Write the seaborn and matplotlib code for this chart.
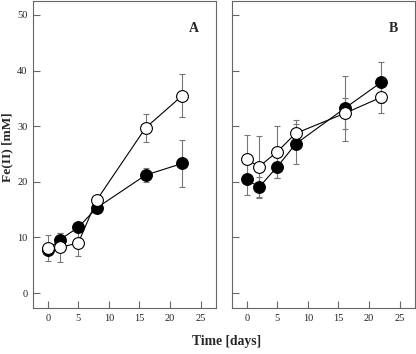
import numpy as np
import pandas as pd
import matplotlib
matplotlib.use("Agg")
import matplotlib.pyplot as plt
import seaborn as sns

# Dados
dias = [0, 2, 5, 8, 16, 22]

a_cheio = [7.8, 9.6, 11.8, 15.3, 21.2, 23.3]
a_cheio_err = [0.5, 1.2, 0.6, 0.6, 1.3, 4.3]
a_aberto = [8.1, 8.2, 9.0, 16.7, 29.7, 35.5]
a_aberto_err = [2.4, 2.6, 2.3, 0.5, 2.5, 3.8]

b_cheio = [20.5, 19.0, 22.7, 26.8, 33.2, 37.9]
b_cheio_err = [2.9, 1.9, 2.1, 3.6, 5.8, 3.7]
b_aberto = [24.1, 22.7, 25.4, 28.7, 32.3, 35.2]
b_aberto_err = [4.4, 5.5, 4.7, 2.4, 2.8, 2.9]

paineis = ["A", "B"]
xticks = [0, 5, 10, 15, 20, 25]
yticks = [0, 10, 20, 30, 40, 50]

sns.set_style("ticks")
plt.rcParams["font.family"] = ["Liberation Serif", "DejaVu Serif"]

fig = plt.figure(figsize=(4.16, 3.54), dpi=100)
ax1 = fig.add_axes([33 / 416, 1 - 307.5 / 354, 183 / 416, 306.5 / 354])
ax2 = fig.add_axes([232 / 416, 1 - 307.5 / 354, 183 / 416, 306.5 / 354])

dados = [
    (ax1, a_cheio, a_cheio_err, a_aberto, a_aberto_err),
    (ax2, b_cheio, b_cheio_err, b_aberto, b_aberto_err),
]

for (ax, cheio, cheio_err, aberto, aberto_err), nome in zip(dados, paineis):
    # barras de erro atrás dos marcadores
    ax.errorbar(dias, cheio, yerr=cheio_err, fmt="none", ecolor="#777777",
                elinewidth=0.8, capsize=2.5, capthick=0.8, zorder=1)
    ax.errorbar(dias, aberto, yerr=aberto_err, fmt="none", ecolor="#777777",
                elinewidth=0.8, capsize=2.5, capthick=0.8, zorder=1)

    df_c = pd.DataFrame({"dia": dias, "fe": cheio})
    df_a = pd.DataFrame({"dia": dias, "fe": aberto})
    sns.lineplot(data=df_c, x="dia", y="fe", ax=ax, color="black", linewidth=0.8,
                 marker="o", markersize=8.5, markerfacecolor="black",
                 markeredgecolor="black", zorder=3)
    sns.lineplot(data=df_a, x="dia", y="fe", ax=ax, color="black", linewidth=0.8,
                 marker="o", markersize=8.5, markerfacecolor="white",
                 markeredgecolor="black", markeredgewidth=0.8, zorder=4)

    ax.set_xlim(-2.4, 27.5)
    ax.set_ylim(-2.6, 52.5)
    ax.set_xticks(xticks)
    ax.set_yticks(yticks)
    ax.tick_params(direction="in", length=5, width=0.8, color="#666666",
                   labelsize=7.5, labelcolor="#222222", pad=5)
    ax.tick_params(axis="y", pad=4)
    for s in ax.spines.values():
        s.set_color("#666666")
        s.set_linewidth(0.8)
    ax.set_xlabel("")
    ax.set_ylabel("")
    ax.text(0.88, 0.91, nome, transform=ax.transAxes, fontsize=10,
            fontweight="bold", ha="center", va="center")

ax2.set_yticklabels([])
fig.text(7 / 416, 1 - 147 / 354, "Fe(II) [mM]", fontsize=9.6, fontweight="bold",
         rotation=90, ha="center", va="center")
fig.text(227 / 416, 1 - 341 / 354, "Time [days]", fontsize=9.8,
         fontweight="bold", ha="center", va="center")

fig.savefig("out.png", dpi=100)
